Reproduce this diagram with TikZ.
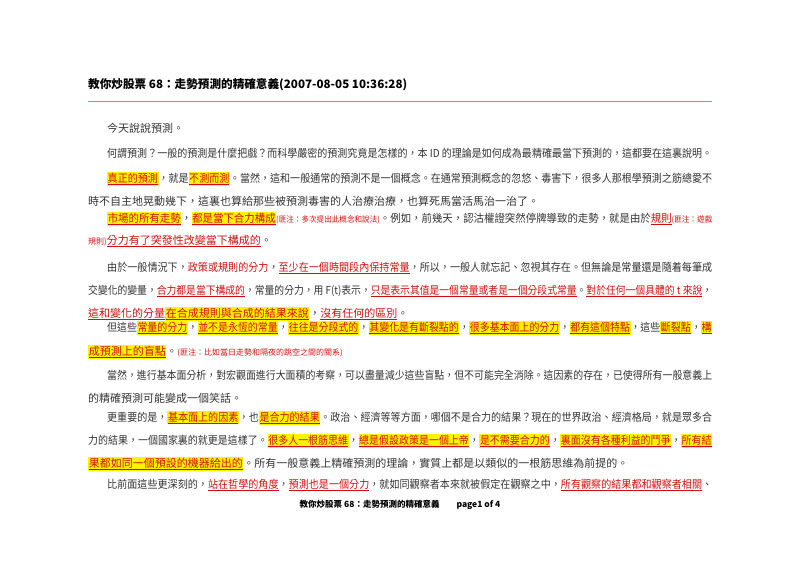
\documentclass[tikz,border=0pt]{standalone}
\usepackage{fontspec}
\usepackage{graphicx}
\newfontfamily\cjk{Noto Sans CJK TC}
\definecolor{bodytext}{HTML}{333333}
\definecolor{markred}{HTML}{D01010}
\definecolor{rulecol}{HTML}{7E9CC8}
\setlength{\fboxsep}{0.6pt}
% highlighted, red underlined
\newcommand\hly[1]{\colorbox{yellow}{\textcolor{markred}{\underline{#1}}}}
\newcommand\rul[1]{\textcolor{markred}{\underline{#1}}}
\newcommand\anno[1]{{\fontsize{8}{10}\selectfont\textcolor{markred}{#1}}}
\newcommand\fullline[1]{\resizebox{#1}{\height}}
\tikzset{
  txt/.style={anchor=base west, inner sep=0, text=bodytext, font=\cjk\fontsize{11}{13}\selectfont},
}
\begin{document}
\begin{tikzpicture}[x=1pt,y=-1pt]
\useasboundingbox (0,0) rectangle (800,566);

% Titel
\node[txt, font=\cjk\bfseries\fontsize{11.6}{14}\selectfont, text=black] (title) at (88,88)
  {\fullline{319pt}{教你炒股票 68：走勢預測的精確意義(2007-08-05 10:36:28)}};
\coordinate (rl) at (88,101);
\coordinate (rr) at (712,101);
\draw[rulecol, line width=1pt] (rl) -- (rr);

% Absätze
\node[txt] (l1) at (107,132) {今天說說預測。};
\node[txt] (l2) at (107,157) {\fullline{605pt}{何謂預測？一般的預測是什麼把戲？而科學嚴密的預測究竟是怎樣的，本 ID 的理論是如何成為最精確最當下預測的，這都要在這裏說明。}};
\node[txt] (l3) at (107,182) {\fullline{605pt}{\hly{真正的預測}，就是\hly{不測而測}。當然，這和一般通常的預測不是一個概念。在通常預測概念的忽悠、毒害下，很多人那根學預測之筋總愛不}};
\node[txt] (l4) at (88,205) {時不自主地晃動幾下，這裏也算給那些被預測毒害的人治療治療，也算死馬當活馬治一治了。};
\node[txt] (l5) at (107,222) {\fullline{605pt}{\hly{市場的所有走勢}，\hly{都是當下合力構成}\anno{(匪注：多次提出此概念和說法)}。例如，前幾天，認沽權證突然停牌導致的走勢，就是由於\rul{規則}\anno{(匪注：遊戲}}};
\node[txt] (l6) at (88,244) {\anno{規則)}\rul{分力有了突發性改變當下構成的}。};
\node[txt] (l7) at (107,271) {\fullline{605pt}{由於一般情況下，\textcolor{markred}{政策或規則的分力}，\rul{至少在一個時間段內保持常量}，所以，一般人就忘記、忽視其存在。但無論是常量還是隨着每筆成}};
\node[txt] (l8) at (88,294) {\fullline{624pt}{交變化的變量，\rul{合力都是當下構成的}，常量的分力，用 F(t)表示，\rul{只是表示其值是一個常量或者是一個分段式常量}。\rul{對於任何一個具體的 t 來說}，}};
\node[txt] (l9) at (88,317) {\rul{這和變化的分量}\hly{在合成規則與合成的結果來說}，\rul{沒有任何的區別}。};
\node[txt] (l10) at (107,331) {\fullline{605pt}{但這些\hly{常量的分力}，\hly{並不是永恆的常量}，\hly{往往是分段式的}，\hly{其變化是有斷裂點的}，\hly{很多基本面上的分力}，\hly{都有這個特點}，這些\hly{斷裂點}，\hly{構}}};
\node[txt] (l11) at (88,355) {\hly{成預測上的盲點}。\anno{(匪注：比如當日走勢和隔夜的跳空之間的關系)}};
\node[txt] (l12) at (107,379) {\fullline{605pt}{當然，進行基本面分析，對宏觀面進行大面積的考察，可以盡量減少這些盲點，但不可能完全消除。這因素的存在，已使得所有一般意義上}};
\node[txt] (l13) at (88,402) {的精確預測可能變成一個笑話。};
\node[txt] (l14) at (107,421) {\fullline{605pt}{更重要的是，\hly{基本面上的因素}，也\hly{是合力的結果}。政治、經濟等等方面，哪個不是合力的結果？現在的世界政治、經濟格局，就是眾多合}};
\node[txt] (l15) at (88,444) {\fullline{624pt}{力的結果，一個國家裏的就更是這樣了。\hly{很多人一根筋思維}，\hly{總是假設政策是一個上帝}，\hly{是不需要合力的}，\hly{裏面沒有各種利益的鬥爭}，\hly{所有結}}};
\node[txt] (l16) at (88,467) {\hly{果都如同一個預設的機器給出的}。所有一般意義上精確預測的理論，實質上都是以類似的一根筋思維為前提的。};
\node[txt] (l17) at (107,488) {\fullline{605pt}{比前面這些更深刻的，\rul{站在哲學的角度}，\rul{預測也是一個分力}，就如同觀察者本來就被假定在觀察之中，\rul{所有觀察的結果都和觀察者相關}、}};

% Fußzeile
\node[font=\cjk\bfseries\fontsize{8.5}{10}\selectfont, inner sep=0] (foot) at (400,505)
  {教你炒股票 68：走勢預測的精確意義\qquad page1 of 4};
\end{tikzpicture}
\end{document}
